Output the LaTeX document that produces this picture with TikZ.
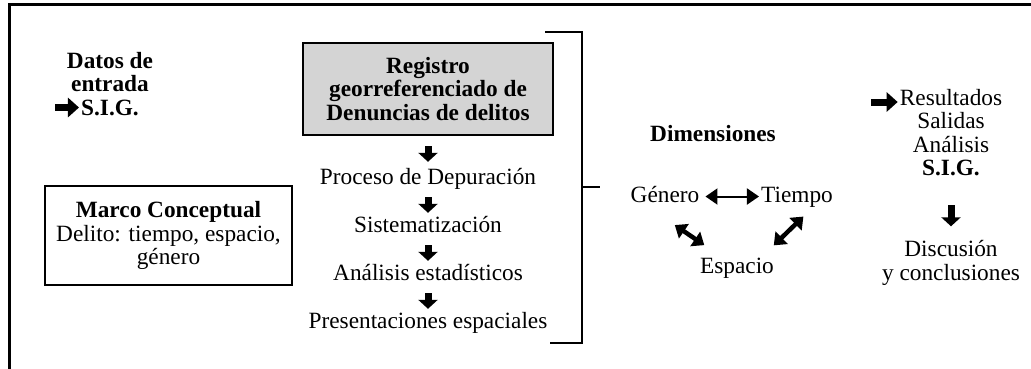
\documentclass[tikz,border=0pt]{standalone}
\usepackage{fontspec}
\setmainfont{Liberation Serif}
\usetikzlibrary{arrows.meta,positioning}

\begin{document}
\begin{tikzpicture}[%
    x=1pt, y=-1pt,
    node distance=48pt,
    on grid,
    txt/.style={font=\fontsize{23.3}{23.5}\selectfont, align=center, inner sep=2pt},
    btxt/.style={txt, font=\fontsize{23.3}{23.5}\selectfont\bfseries},
    stepnode/.style={txt, inner sep=0pt, text height=16pt, text depth=5pt},
    dimnode/.style={txt, inner sep=1pt, text height=16pt, text depth=5pt},
    box/.style={draw, line width=2.5pt, align=center, inner sep=0pt},
    darr/.style={line width=7pt, -{Triangle[width=19pt,length=9pt]}, shorten <=8pt, shorten >=3pt},
    rarr/.style={line width=7pt, -{Triangle[width=19pt,length=11pt]}},
    dimarr/.style={line width=2pt, {Triangle[width=16pt,length=12pt]}-{Triangle[width=16pt,length=12pt]}},
    diagarr/.style={line width=4.5pt, {Triangle[width=17pt,length=11pt]}-{Triangle[width=17pt,length=11pt]}},
    frm/.style={line width=2.5pt}
    ]

    \useasboundingbox (0,0) rectangle (1031,368);
    \draw[frm] (9.5,370) |- (1031,4.5);

    % entrada
    \node[btxt] (datos) at (110,72) {Datos de\\entrada};
    \node[btxt, anchor=base] (sig) at (110,115) {S.I.G.};
    \coordinate (sigin) at (55,107.5);
    \draw[rarr] (sigin) -- (sigin -| sig.west);

    \node[box, txt, inner sep=0pt, minimum width=247pt, minimum height=99pt] (marco) at (168.5,235.5)
        {\textbf{Marco Conceptual}\\Delito: tiempo, espacio,\\género};

    % proceso
    \node[box, btxt, inner sep=0pt, fill=black!17, minimum width=250pt, minimum height=92pt] (reg) at (428,89)
        {Registro\\georreferenciado de\\Denuncias de delitos};
    \node[stepnode] (p1) [below=89.5pt of reg] {Proceso de Depuración};
    \node[stepnode] (p2) [below=of p1] {Sistematización};
    \node[stepnode] (p3) [below=of p2] {Análisis estadísticos};
    \node[stepnode] (p4) [below=of p3] {Presentaciones espaciales};

    \draw[darr, shorten <=10pt, shorten >=6pt] (reg) -- (p1);
    \foreach \a/\b in {p1/p2, p2/p3, p3/p4}
        \draw[darr] (\a) -- (\b);

    \draw[frm] (545,32) -- (582,32) -- (582,343) -- (550,343);
    \draw[frm] (582,187) -- (600,187);

    % dimensiones
    \node[btxt, anchor=base] (dim) at (713,141) {Dimensiones};
    \node[dimnode, anchor=base] (gen) at (665,202) {Género};
    \node[dimnode, anchor=base] (tie) at (797,202) {Tiempo};
    \node[dimnode, anchor=base] (esp) at (737,273) {Espacio};

    \draw[dimarr, shorten <=5pt, shorten >=1pt] (gen) -- (tie);
    \draw[diagarr, shorten <=30pt, shorten >=19pt] ([xshift=-15pt]gen.south) -- ([xshift=-17pt]esp.north);
    \draw[diagarr, shorten <=12pt, shorten >=15pt] ([xshift=15pt]tie.south) -- ([xshift=26pt]esp.north);

    % resultados
    \node[txt, anchor=base] (res) at (951,105) {Resultados};
    \coordinate (resin) at (871,102);
    \draw[rarr] (resin) -- (resin -| res.west);
    \node[txt, anchor=north] (sal) at (951,110.3) {Salidas\\Análisis\\\textbf{S.I.G.}};
    \node[txt, anchor=north] (disc) at (951,238.3) {Discusión\\y conclusiones};
    \draw[darr, shorten <=27pt, shorten >=12pt] (sal) -- (disc);

\end{tikzpicture}
\end{document}
